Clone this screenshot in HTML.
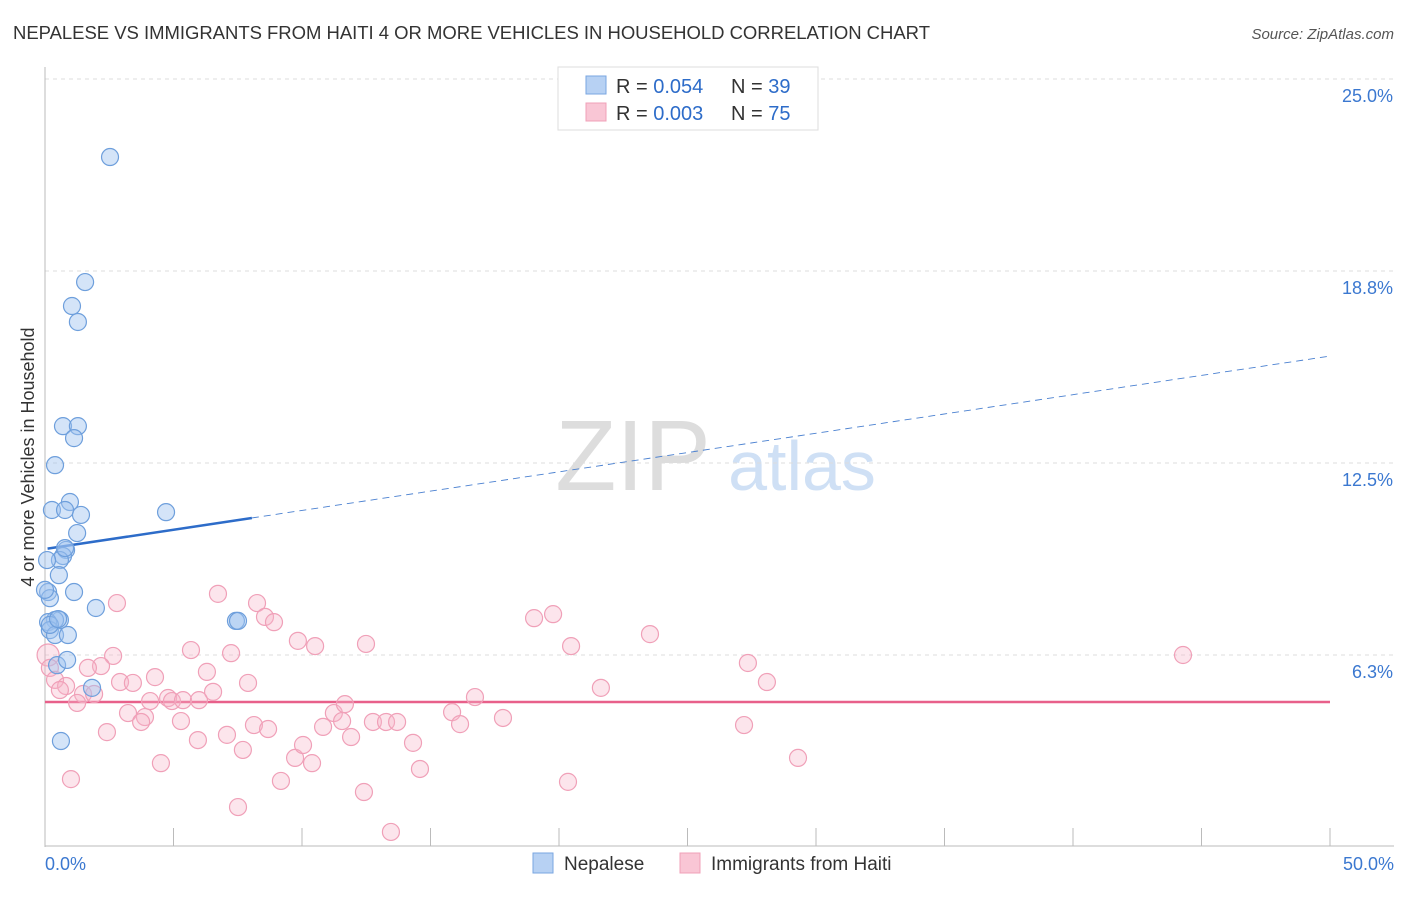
<!DOCTYPE html>
<html><head><meta charset="utf-8"><style>
body{margin:0;background:#fff;font-family:"Liberation Sans",sans-serif;}
svg text{font-family:"Liberation Sans",sans-serif;}
</style></head><body>
<svg id="chart" width="1406" height="892">
<text x="13" y="39" font-size="18.5" fill="#333" textLength="917">NEPALESE VS IMMIGRANTS FROM HAITI 4 OR MORE VEHICLES IN HOUSEHOLD CORRELATION CHART</text>
<text x="1394" y="39" font-size="15" fill="#555" font-style="italic" text-anchor="end">Source: ZipAtlas.com</text>
<text transform="translate(34,457) rotate(-90)" font-size="18" fill="#333" text-anchor="middle">4 or more Vehicles in Household</text>
<g><text x="633" y="490" font-size="100" fill="#ddd" font-family="Liberation Serif" text-anchor="middle">ZIP</text><text x="802" y="490" font-size="70" fill="#cfe0f5" text-anchor="middle">atlas</text></g>
<g id="grid"></g><g id="axes"></g><g id="trends"></g><g id="pts"></g>
<g>
<rect x="558" y="67" width="260" height="63" fill="#fff" stroke="#ddd"/>
<rect x="586" y="76" width="20" height="18" fill="#b7d1f3" stroke="#7aa6e0"/>
<rect x="586" y="103" width="20" height="18" fill="#f9c6d5" stroke="#f0a0b8"/>
<text x="616" y="93" font-size="20" fill="#333">R = <tspan fill="#2d6cc9">0.054</tspan></text>
<text x="731" y="93" font-size="20" fill="#333">N = <tspan fill="#2d6cc9">39</tspan></text>
<text x="616" y="120" font-size="20" fill="#333">R = <tspan fill="#2d6cc9">0.003</tspan></text>
<text x="731" y="120" font-size="20" fill="#333">N = <tspan fill="#2d6cc9">75</tspan></text>
</g>
<g>
<rect x="533" y="853" width="20" height="20" fill="#b7d1f3" stroke="#7aa6e0"/>
<text x="564" y="870" font-size="19" fill="#333">Nepalese</text>
<rect x="680" y="853" width="20" height="20" fill="#f9c6d5" stroke="#f0a0b8"/>
<text x="711" y="870" font-size="19" fill="#333">Immigrants from Haiti</text>
</g>
</svg>
<script>
const yTicks=[6.25,12.5,18.75,25];
const yTickLabels=["6.3%","12.5%","18.8%","25.0%"];
const xEndLabels=["0.0%","50.0%"];
const blueX=[2.53,1.56,1.05,1.28,0.70,1.28,1.13,0.39,0.97,0.27,0.78,1.40,1.25,4.71,0.82,0.70,0.58,0.08,0.54,1.13,0.12,0.19,1.98,7.43,7.51,0.58,0.39,0.12,0.19,0.39,0.89,0.47,0.86,1.83,0.62,0.19,0.51,0.00,0.78];
const blueY=[22.46,18.39,17.61,17.09,13.70,13.70,13.31,12.43,11.23,10.97,10.97,10.81,10.22,10.90,9.67,9.47,9.34,9.34,8.85,8.30,8.30,8.10,7.78,7.36,7.36,7.39,7.39,7.32,7.06,6.90,6.90,5.92,6.09,5.18,3.45,7.23,7.42,8.37,9.73];
const pinkX=[2.80,6.73,8.25,8.56,8.91,9.84,10.51,12.49,19.03,19.77,20.47,23.54,27.35,28.09,21.63,44.28,5.68,7.24,2.65,2.18,1.67,0.12,0.19,0.39,0.82,0.58,1.48,1.25,1.91,2.92,3.42,4.28,6.30,7.90,6.54,4.79,4.09,4.94,5.37,5.99,3.23,3.89,3.74,5.29,2.41,5.95,7.08,7.70,8.13,8.68,4.51,1.01,7.51,9.18,9.73,10.04,10.39,10.82,11.24,11.67,11.56,11.91,12.76,13.27,13.70,14.32,14.59,12.41,13.46,15.84,16.15,16.73,17.82,20.35,27.20,29.30];
const pinkY=[7.94,8.24,7.94,7.49,7.32,6.71,6.54,6.61,7.45,7.58,6.54,6.93,5.99,5.37,5.18,6.25,6.41,6.31,6.22,5.89,5.83,6.25,5.83,5.44,5.24,5.11,4.98,4.69,4.98,5.37,5.34,5.53,5.70,5.34,5.05,4.85,4.75,4.75,4.78,4.78,4.36,4.23,4.07,4.10,3.74,3.48,3.65,3.16,3.97,3.84,2.73,2.21,1.30,2.15,2.90,3.32,2.73,3.91,4.36,4.65,4.10,3.58,4.07,4.07,4.07,3.39,2.54,1.79,0.49,4.39,4.00,4.88,4.20,2.12,3.97,2.90];
const blueTrend=[9.7,15.98];
const blueSolidEnd=8.05;
const pinkTrend=[4.72,4.72];
const NS="http://www.w3.org/2000/svg";
const X=v=>45+v/50*1285, Y=v=>847-v/6.25*192;
function mk(tag,attrs,parent){const e=document.createElementNS(NS,tag);for(const k in attrs)e.setAttribute(k,attrs[k]);parent.appendChild(e);return e;}
const grid=document.getElementById('grid'),axes=document.getElementById('axes'),tr=document.getElementById('trends'),pts=document.getElementById('pts');
yTicks.forEach((t,i)=>{
 const l=mk('line',{x1:45,x2:1394,y1:Y(t),y2:Y(t),stroke:'#ddd','stroke-dasharray':'4,4'},grid);
 
 
 const tx=mk('text',{x:1393,y:Y(t)+23,'font-size':18,fill:'#3b78d0','text-anchor':'end'},axes);tx.textContent=yTickLabels[i];
 
 
});
const ya=mk('line',{x1:45,x2:45,y1:67,y2:847,stroke:'#bbb'},axes);


const xa=mk('line',{x1:45,x2:1394,y1:846,y2:846,stroke:'#bbb'},axes);


for(let v=0;v<=50;v+=5){const t=mk('line',{x1:X(v),x2:X(v),y1:828,y2:846,stroke:'#bbb'},axes);
 
 }
[[0,45,'start'],[50,1394,'end']].forEach((a,i)=>{const t=mk('text',{x:a[1],y:870,'font-size':18,fill:'#3b78d0','text-anchor':a[2]},axes);t.textContent=xEndLabels[i];
 
 });
const bt=v=>blueTrend[0]+(blueTrend[1]-blueTrend[0])*v/50;
const b1=mk('line',{x1:X(0.1),y1:Y(bt(0.1)),x2:X(blueSolidEnd),y2:Y(bt(blueSolidEnd)),stroke:'#2d6cc9','stroke-width':2.5},tr);


const b2=mk('line',{x1:X(blueSolidEnd),y1:Y(bt(blueSolidEnd)),x2:X(50),y2:Y(bt(50)),stroke:'#4a80d0','stroke-width':0.9,'stroke-dasharray':'7,5'},tr);


const p1=mk('line',{x1:X(0),y1:Y(pinkTrend[0]),x2:X(50),y2:Y(pinkTrend[1]),stroke:'#e8608a','stroke-width':2.5},tr);


pinkX.forEach((x,i)=>{const c=mk('circle',{cx:X(x),cy:Y(pinkY[i]),r:i==21?11:8.5,fill:'rgba(246,180,201,0.35)',stroke:'#f0a0b8','stroke-width':1.2},pts);
 
 });
blueX.forEach((x,i)=>{const c=mk('circle',{cx:X(x),cy:Y(blueY[i]),r:8.5,fill:'rgba(160,195,240,0.45)',stroke:'#6e9fdc','stroke-width':1.2},pts);
 
 });
</script>
</body></html>
